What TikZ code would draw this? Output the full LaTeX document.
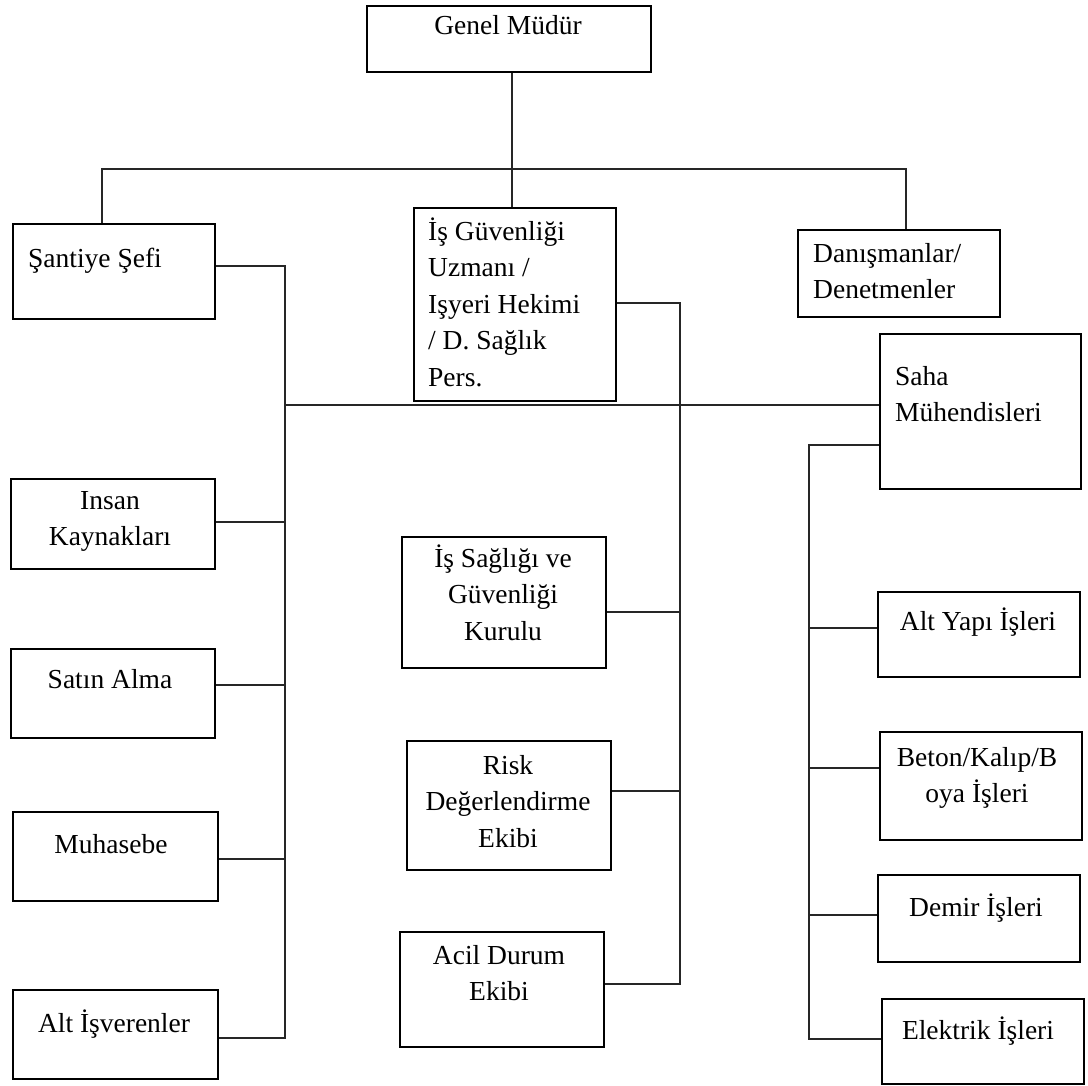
\documentclass[tikz,border=0pt]{standalone}
\usepackage{fontspec}
\setmainfont{Liberation Serif}
\begin{document}
\begin{tikzpicture}[x=1pt,y=-1pt,
  box/.style={draw=black, fill=white, line width=1.8pt, anchor=north west, inner sep=0pt},
  lbl/.style={font=\fontsize{27.5}{36.5}\selectfont, inner sep=0pt, text=black},
  con/.style={draw=black!85, line width=1.5pt}]
\fill[white] (0,0) rectangle (1088,1086);
\useasboundingbox (0,0) rectangle (1088,1086);

% connector junctions
\coordinate (jt) at (512,169);
\coordinate (tl) at (102,169);
\coordinate (tr) at (906,169);
\coordinate (lt) at (285,266);
\coordinate (lm) at (285,405);
\coordinate (lik) at (285,522);
\coordinate (lsa) at (285,685);
\coordinate (lmu) at (285,859);
\coordinate (lb) at (285,1038);
\coordinate (mt) at (680,303);
\coordinate (mk) at (680,612);
\coordinate (mr) at (680,791);
\coordinate (mb) at (680,984);
\coordinate (rt) at (809,445);
\coordinate (ra) at (809,628);
\coordinate (rbe) at (809,768);
\coordinate (rd) at (809,915);
\coordinate (rb) at (809,1039);

% boxes
\node[box, minimum width=284pt, minimum height=66pt]  (gm)    at (366,5) {};
\node[box, minimum width=202pt, minimum height=95pt]  (sef)   at (12,223) {};
\node[box, minimum width=202pt, minimum height=193pt] (isg)   at (413,207) {};
\node[box, minimum width=202pt, minimum height=87pt]  (dan)   at (797,229) {};
\node[box, minimum width=201pt, minimum height=155pt] (saha)  at (879,333) {};
\node[box, minimum width=204pt, minimum height=90pt]  (ik)    at (10,478) {};
\node[box, minimum width=204pt, minimum height=89pt]  (sa)    at (10,648) {};
\node[box, minimum width=205pt, minimum height=89pt]  (muh)   at (12,811) {};
\node[box, minimum width=205pt, minimum height=89pt]  (alt)   at (12,989) {};
\node[box, minimum width=204pt, minimum height=131pt] (kurul) at (401,536) {};
\node[box, minimum width=204pt, minimum height=129pt] (risk)  at (406,740) {};
\node[box, minimum width=204pt, minimum height=115pt] (acil)  at (399,931) {};
\node[box, minimum width=202pt, minimum height=85pt]  (alty)  at (877,591) {};
\node[box, minimum width=202pt, minimum height=108pt] (beton) at (879,731) {};
\node[box, minimum width=202pt, minimum height=87pt]  (demir) at (877,874) {};
\node[box, minimum width=202pt, minimum height=85pt]  (elek)  at (881,998) {};

% connectors
\draw[con] (gm.south -| jt) -- (isg.north -| jt);
\draw[con] (sef.north -| tl) -- (tl) -- (tr) -- (dan.north -| tr);
\draw[con] (sef.east |- lt) -- (lt) -- (lb) -- (alt.east |- lb);
\draw[con] (ik.east |- lik) -- (lik);
\draw[con] (sa.east |- lsa) -- (lsa);
\draw[con] (muh.east |- lmu) -- (lmu);
\draw[con] (lm) -- (saha.west |- lm);
\draw[con] (isg.east |- mt) -- (mt) -- (mb) -- (acil.east |- mb);
\draw[con] (kurul.east |- mk) -- (mk);
\draw[con] (risk.east |- mr) -- (mr);
\draw[con] (saha.west |- rt) -- (rt) -- (rb) -- (elek.west |- rb);
\draw[con] (ra) -- (alty.west |- ra);
\draw[con] (rbe) -- (beton.west |- rbe);
\draw[con] (rd) -- (demir.west |- rd);

% labels
\node[lbl, anchor=north, align=center] (gmt) at (508,9) {\rule{0pt}{25pt}Genel Müdür};
\node[lbl, anchor=north west, align=left] (seft) at (28,242) {\rule{0pt}{25pt}Şantiye Şefi};
\node[lbl, anchor=north west, align=left] (isgt) at (428,215) {\rule{0pt}{25pt}İş Güvenliği\\Uzmanı /\\Işyeri Hekimi\\/ D. Sağlık\\Pers.};
\node[lbl, anchor=north west, align=left] (dant) at (813,237) {\rule{0pt}{25pt}Danışmanlar/\\Denetmenler};
\node[lbl, anchor=north west, align=left] (sahat) at (895,360) {\rule{0pt}{25pt}Saha\\Mühendisleri};
\node[lbl, anchor=north, align=center] (ikt) at (110,484) {\rule{0pt}{25pt}Insan\\Kaynakları};
\node[lbl, anchor=north, align=center] (sat) at (110,663) {\rule{0pt}{25pt}Satın Alma};
\node[lbl, anchor=north, align=center] (muht) at (111,828) {\rule{0pt}{25pt}Muhasebe};
\node[lbl, anchor=north, align=center] (altt) at (114,1007) {\rule{0pt}{25pt}Alt İşverenler};
\node[lbl, anchor=north, align=center] (kurult) at (503,542) {\rule{0pt}{25pt}İş Sağlığı ve\\Güvenliği\\Kurulu};
\node[lbl, anchor=north, align=center] (riskt) at (508,749) {\rule{0pt}{25pt}Risk\\Değerlendirme\\Ekibi};
\node[lbl, anchor=north, align=center] (acilt) at (499,939) {\rule{0pt}{25pt}Acil Durum\\Ekibi};
\node[lbl, anchor=north, align=center] (altyt) at (978,605) {\rule{0pt}{25pt}Alt Yapı İşleri};
\node[lbl, anchor=north, align=center] (betont) at (977,741) {\rule{0pt}{25pt}Beton/Kalıp/B\\oya İşleri};
\node[lbl, anchor=north, align=center] (demirt) at (976,891) {\rule{0pt}{25pt}Demir İşleri};
\node[lbl, anchor=north, align=center] (elekt) at (978,1014) {\rule{0pt}{25pt}Elektrik İşleri};
\end{tikzpicture}
\end{document}
